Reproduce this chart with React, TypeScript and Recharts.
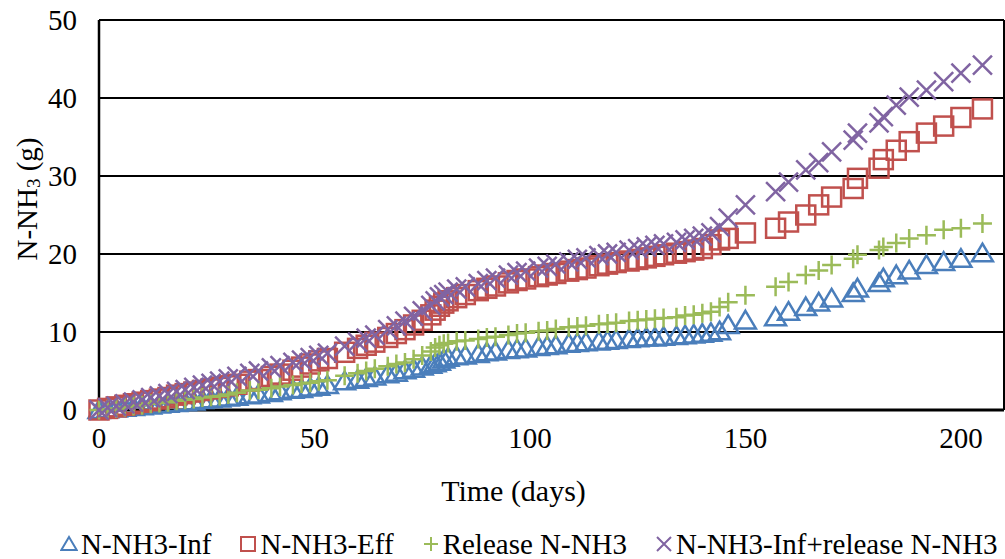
import React from 'react';
import { ScatterChart, Scatter, XAxis, YAxis, CartesianGrid, Legend, ReferenceLine } from 'recharts';

// sampling days (shared by all four series)
const days = [
  0, 2, 4, 6, 8, 10, 12, 14, 16, 18, 20, 22, 24, 26, 28, 30, 32,
  35, 37, 40, 42, 45, 47, 49, 51, 53,
  57, 60, 62, 64, 67, 69, 71, 73, 75,
  77, 78, 79, 80, 81,
  83, 85, 88, 90, 92, 95, 97, 99,
  102, 104, 106, 109, 111, 113, 116, 118, 120,
  123, 125, 127, 129, 131, 134, 136, 138, 140, 142, 144, 146,
  150, 157, 160, 164, 167, 170, 175, 176, 181, 182, 185, 188, 192, 196, 200, 205,
];

const nh3Inf = [
  0.0, 0.1, 0.2, 0.3, 0.4, 0.5, 0.6, 0.7, 0.8, 0.9, 1.0, 1.1, 1.3, 1.4, 1.5, 1.6, 1.7,
  1.9, 2.0, 2.2, 2.4, 2.6, 2.7, 2.9, 3.0, 3.2,
  3.7, 3.9, 4.1, 4.3, 4.6, 4.8, 5.1, 5.3, 5.6,
  5.8, 6.0, 6.2, 6.5, 6.7,
  6.9, 7.0, 7.2, 7.4, 7.5, 7.7, 7.8, 7.9,
  8.1, 8.2, 8.3, 8.5, 8.6, 8.7, 8.8, 8.9, 9.0,
  9.1, 9.2, 9.3, 9.3, 9.4, 9.5, 9.6, 9.7, 9.8, 9.9, 10.1, 10.9,
  11.5, 11.9, 12.6, 13.2, 13.8, 14.3, 15.0, 15.6, 16.3, 16.9, 17.3, 17.9, 18.6, 19.0, 19.4, 20.1,
];

const nh3Eff = [
  0.0, 0.2, 0.4, 0.6, 0.8, 1.0, 1.2, 1.4, 1.6, 1.9, 2.1, 2.3, 2.5, 2.7, 2.9, 3.1, 3.3,
  3.7, 3.9, 4.3, 4.6, 5.1, 5.5, 5.9, 6.3, 6.6,
  7.4, 7.9, 8.3, 8.7, 9.3, 9.8, 10.3, 10.9, 11.5,
  12.2, 12.8, 13.3, 13.7, 14.0,
  14.4, 14.8, 15.3, 15.6, 15.9, 16.3, 16.6, 16.8,
  17.1, 17.3, 17.5, 17.8, 18.0, 18.2, 18.5, 18.7, 18.9,
  19.1, 19.3, 19.5, 19.7, 19.9, 20.1, 20.3, 20.5, 20.7, 21.2, 21.8, 22.0,
  22.7, 23.3, 24.1, 25.0, 26.3, 27.3, 28.4, 29.7, 31.0, 32.1, 33.3, 34.4, 35.5, 36.4, 37.5, 38.6,
];

const releaseNh3 = [
  0.0, 0.1, 0.2, 0.4, 0.5, 0.6, 0.8, 0.9, 1.0, 1.2, 1.3, 1.4, 1.6, 1.7, 1.8, 2.0, 2.2,
  2.5, 2.6, 2.8, 3.0, 3.2, 3.4, 3.5, 3.7, 3.8,
  4.4, 4.7, 5.0, 5.3, 5.6, 5.9, 6.1, 6.5, 7.0,
  7.5, 8.0, 8.3, 8.5, 8.6,
  8.8, 8.9, 9.1, 9.3, 9.4, 9.6, 9.8, 9.9,
  10.1, 10.2, 10.4, 10.6, 10.7, 10.8, 11.0, 11.1, 11.2,
  11.4, 11.5, 11.6, 11.7, 11.8, 11.9, 12.1, 12.2, 12.4, 12.6, 13.2, 13.8,
  14.7, 15.8, 16.4, 17.3, 17.9, 18.6, 19.4, 19.9, 20.5, 20.9, 21.4, 22.0, 22.4, 23.1, 23.3, 23.9,
];

const infPlusRelease = [
  0.0, 0.3, 0.5, 0.8, 1.0, 1.3, 1.6, 1.8, 2.1, 2.4, 2.6, 2.9, 3.2, 3.4, 3.7, 4.0, 4.3,
  4.7, 5.0, 5.4, 5.7, 6.1, 6.4, 6.7, 7.0, 7.3,
  8.2, 8.7, 9.2, 9.6, 10.3, 10.8, 11.4, 12.0, 12.7,
  13.4, 14.0, 14.5, 14.8, 15.1,
  15.5, 15.8, 16.2, 16.6, 16.9, 17.3, 17.6, 17.8,
  18.2, 18.4, 18.7, 19.0, 19.3, 19.5, 19.8, 20.0, 20.2,
  20.5, 20.7, 20.9, 21.1, 21.3, 21.5, 21.8, 22.0, 22.3, 22.7, 23.5, 24.6,
  26.3, 28.0, 29.2, 30.8, 31.7, 33.1, 34.6, 35.5, 36.8, 37.6, 39.1, 40.1, 41.0, 42.1, 43.2, 44.2,
];

const xTicks = [0, 50, 100, 150, 200];
const yTicks = [0, 10, 20, 30, 40, 50];

const FONT = '"Liberation Serif", "Times New Roman", serif';

type Kind = 'triangle' | 'square' | 'plus' | 'cross';

const series: { name: string; values: number[]; color: string; kind: Kind }[] = [
  { name: 'N-NH3-Inf', values: nh3Inf, color: '#4A7EBB', kind: 'triangle' },
  { name: 'N-NH3-Eff', values: nh3Eff, color: '#C0504D', kind: 'square' },
  { name: 'Release N-NH3', values: releaseNh3, color: '#9BBB59', kind: 'plus' },
  { name: 'N-NH3-Inf+release N-NH3', values: infPlusRelease, color: '#8064A2', kind: 'cross' },
];

const toPoints = (values: number[]) => days.map((d, i) => ({ day: d, value: values[i] }));

// outline markers like Excel's
const MarkerShape = ({ kind, cx, cy, color, r = 9.5, sw = 2.5 }: { kind: Kind; cx: number; cy: number; color: string; r?: number; sw?: number }) => {
  if (cx == null || cy == null) return null;
  if (kind === 'triangle') {
    return <polygon points={`${cx},${cy - r} ${cx + r * 1.1},${cy + r * 0.85} ${cx - r * 1.1},${cy + r * 0.85}`} fill="none" stroke={color} strokeWidth={sw} strokeLinejoin="miter" />;
  }
  if (kind === 'square') {
    return <rect x={cx - r} y={cy - r} width={r * 2} height={r * 2} fill="none" stroke={color} strokeWidth={sw} />;
  }
  if (kind === 'plus') {
    return <path d={`M${cx - r},${cy}H${cx + r}M${cx},${cy - r}V${cy + r}`} stroke={color} strokeWidth={sw} fill="none" />;
  }
  return <path d={`M${cx - r},${cy - r}L${cx + r},${cy + r}M${cx + r},${cy - r}L${cx - r},${cy + r}`} stroke={color} strokeWidth={sw} fill="none" />;
};

const LegendRow = () => (
  <div style={{ display: 'flex', justifyContent: 'flex-start', alignItems: 'center', height: 30, fontFamily: FONT, fontSize: 29, color: '#000', paddingLeft: 60, whiteSpace: 'nowrap' }}>
    {series.map((s, i) => (
      <span key={s.name} style={{ display: 'flex', alignItems: 'center', marginRight: i < series.length - 1 ? 28 : 0 }}>
        <svg width={18} height={18} style={{ marginRight: 3 }}>
          <MarkerShape kind={s.kind} cx={9} cy={9} color={s.color} r={7} sw={2} />
        </svg>
        {s.name}
      </span>
    ))}
  </div>
);

const YLabel = ({ viewBox }: any) => {
  const cx = viewBox.x + 27;
  const cy = viewBox.y + viewBox.height / 2 - 16;
  return (
    <text x={cx} y={cy} transform={`rotate(-90, ${cx}, ${cy})`} textAnchor="middle" dominantBaseline="central" fontFamily={FONT} fontSize={29} fill="#000">
      N-NH<tspan fontSize={19} dy={6}>3</tspan><tspan dy={-6}> (g)</tspan>
    </text>
  );
};

const XLabel = ({ viewBox }: any) => (
  <text x={viewBox.x + viewBox.width / 2 - 38} y={viewBox.y + 80} textAnchor="middle" dominantBaseline="central" fontFamily={FONT} fontSize={30} fill="#000">
    Time (days)
  </text>
);

const tickStyle = { fill: '#000', fontSize: 29, fontFamily: FONT };

export default function App() {
  return (
    <div style={{ width: 1005, height: 559, background: '#fff' }}>
      <style>{'body{margin:0}'}</style>
      <ScatterChart width={1005} height={559} margin={{ top: 20, right: 1, left: 0, bottom: 0 }}>
        <CartesianGrid horizontal vertical={false} stroke="#000" strokeWidth={2} />
        <XAxis
          type="number"
          dataKey="day"
          domain={[0, 210]}
          ticks={xTicks}
          tick={tickStyle}
          tickSize={0}
          tickMargin={17}
          height={119}
          axisLine={{ stroke: '#000', strokeWidth: 3 }}
          label={<XLabel />}
        />
        <YAxis
          type="number"
          dataKey="value"
          domain={[0, 50]}
          ticks={yTicks}
          tick={tickStyle}
          tickSize={0}
          tickMargin={22}
          width={99}
          axisLine={{ stroke: '#000', strokeWidth: 2.5 }}
          label={<YLabel />}
        />
        <ReferenceLine x={210} stroke="#000" strokeWidth={2} />
        <Legend
          content={() => <LegendRow />}
          wrapperStyle={{ left: 0, bottom: 0, width: 1005, height: 30 }}
        />
        {series.map(s => (
          <Scatter
            key={s.name}
            name={s.name}
            data={toPoints(s.values)}
            isAnimationActive={false}
            shape={(p: any) => <MarkerShape kind={s.kind} cx={p.cx} cy={p.cy} color={s.color} />}
          />
        ))}
      </ScatterChart>
    </div>
  );
}
